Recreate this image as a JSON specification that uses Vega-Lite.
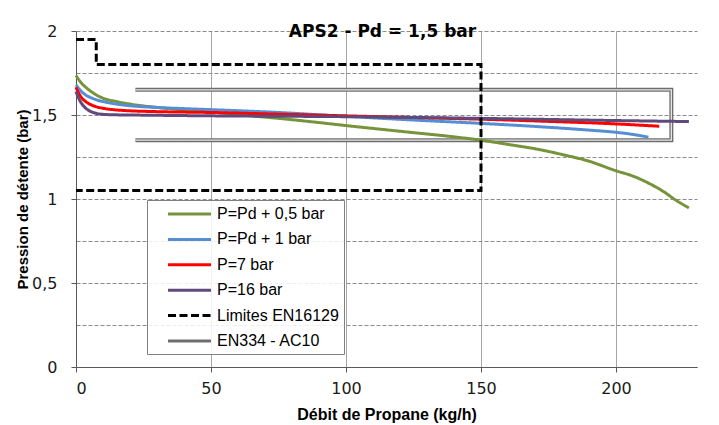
{
  "$schema": "https://vega.github.io/schema/vega-lite/v6.json",
  "width": 621,
  "height": 336,
  "autosize": {"type": "none"},
  "padding": {"left": 76, "top": 31, "right": 22, "bottom": 58},
  "background": "white",
  "title": {
    "text": "APS2 - Pd = 1,5 bar",
    "font": "DejaVu Sans",
    "fontSize": 17,
    "fontWeight": "bold",
    "color": "#000000",
    "anchor": "middle",
    "baseline": "alphabetic",
    "offset": -31,
    "dx": -4
  },
  "config": {
    "view": {"stroke": null},
    "legend": {
      "symbolType": "M-3,0L3,0",
      "symbolStrokeWidth": 3,
      "symbolSize": 205,
      "labelFont": "Liberation Sans",
      "labelFontSize": 16,
      "labelColor": "#000000",
      "fillColor": "rgba(255,255,255,0.85)",
      "strokeColor": "#808080",
      "padding": 5,
      "rowPadding": 8.4,
      "symbolOffset": 28.5,
      "labelOffset": 18.5
    }
  },
  "data": {
    "values": [
      {"s": "P=Pd + 0,5 bar", "i": 0, "x": 0, "y": 1.735},
      {"s": "P=Pd + 0,5 bar", "i": 1, "x": 2, "y": 1.69},
      {"s": "P=Pd + 0,5 bar", "i": 2, "x": 4, "y": 1.66},
      {"s": "P=Pd + 0,5 bar", "i": 3, "x": 6, "y": 1.635},
      {"s": "P=Pd + 0,5 bar", "i": 4, "x": 8, "y": 1.615},
      {"s": "P=Pd + 0,5 bar", "i": 5, "x": 10, "y": 1.6},
      {"s": "P=Pd + 0,5 bar", "i": 6, "x": 15, "y": 1.58},
      {"s": "P=Pd + 0,5 bar", "i": 7, "x": 20, "y": 1.565},
      {"s": "P=Pd + 0,5 bar", "i": 8, "x": 30, "y": 1.545},
      {"s": "P=Pd + 0,5 bar", "i": 9, "x": 40, "y": 1.53},
      {"s": "P=Pd + 0,5 bar", "i": 10, "x": 50, "y": 1.518},
      {"s": "P=Pd + 0,5 bar", "i": 11, "x": 60, "y": 1.502},
      {"s": "P=Pd + 0,5 bar", "i": 12, "x": 75, "y": 1.48},
      {"s": "P=Pd + 0,5 bar", "i": 13, "x": 90, "y": 1.455},
      {"s": "P=Pd + 0,5 bar", "i": 14, "x": 100, "y": 1.437},
      {"s": "P=Pd + 0,5 bar", "i": 15, "x": 110, "y": 1.42},
      {"s": "P=Pd + 0,5 bar", "i": 16, "x": 125, "y": 1.395},
      {"s": "P=Pd + 0,5 bar", "i": 17, "x": 140, "y": 1.37},
      {"s": "P=Pd + 0,5 bar", "i": 18, "x": 150, "y": 1.35},
      {"s": "P=Pd + 0,5 bar", "i": 19, "x": 160, "y": 1.325},
      {"s": "P=Pd + 0,5 bar", "i": 20, "x": 172, "y": 1.293},
      {"s": "P=Pd + 0,5 bar", "i": 21, "x": 180, "y": 1.265},
      {"s": "P=Pd + 0,5 bar", "i": 22, "x": 190, "y": 1.225},
      {"s": "P=Pd + 0,5 bar", "i": 23, "x": 200, "y": 1.168},
      {"s": "P=Pd + 0,5 bar", "i": 24, "x": 206, "y": 1.138},
      {"s": "P=Pd + 0,5 bar", "i": 25, "x": 212, "y": 1.095},
      {"s": "P=Pd + 0,5 bar", "i": 26, "x": 218, "y": 1.04},
      {"s": "P=Pd + 0,5 bar", "i": 27, "x": 222, "y": 0.995},
      {"s": "P=Pd + 0,5 bar", "i": 28, "x": 227, "y": 0.947},
      {"s": "P=Pd + 1 bar", "i": 0, "x": 0, "y": 1.68},
      {"s": "P=Pd + 1 bar", "i": 1, "x": 2, "y": 1.64},
      {"s": "P=Pd + 1 bar", "i": 2, "x": 4, "y": 1.615},
      {"s": "P=Pd + 1 bar", "i": 3, "x": 6, "y": 1.6},
      {"s": "P=Pd + 1 bar", "i": 4, "x": 8, "y": 1.588},
      {"s": "P=Pd + 1 bar", "i": 5, "x": 10, "y": 1.58},
      {"s": "P=Pd + 1 bar", "i": 6, "x": 15, "y": 1.565},
      {"s": "P=Pd + 1 bar", "i": 7, "x": 20, "y": 1.555},
      {"s": "P=Pd + 1 bar", "i": 8, "x": 30, "y": 1.545},
      {"s": "P=Pd + 1 bar", "i": 9, "x": 40, "y": 1.538},
      {"s": "P=Pd + 1 bar", "i": 10, "x": 50, "y": 1.532},
      {"s": "P=Pd + 1 bar", "i": 11, "x": 75, "y": 1.515},
      {"s": "P=Pd + 1 bar", "i": 12, "x": 100, "y": 1.492},
      {"s": "P=Pd + 1 bar", "i": 13, "x": 125, "y": 1.47},
      {"s": "P=Pd + 1 bar", "i": 14, "x": 150, "y": 1.45},
      {"s": "P=Pd + 1 bar", "i": 15, "x": 172, "y": 1.43},
      {"s": "P=Pd + 1 bar", "i": 16, "x": 190, "y": 1.41},
      {"s": "P=Pd + 1 bar", "i": 17, "x": 200, "y": 1.397},
      {"s": "P=Pd + 1 bar", "i": 18, "x": 206, "y": 1.385},
      {"s": "P=Pd + 1 bar", "i": 19, "x": 212, "y": 1.368},
      {"s": "P=7 bar", "i": 0, "x": 0, "y": 1.665},
      {"s": "P=7 bar", "i": 1, "x": 1, "y": 1.63},
      {"s": "P=7 bar", "i": 2, "x": 2, "y": 1.605},
      {"s": "P=7 bar", "i": 3, "x": 4, "y": 1.575},
      {"s": "P=7 bar", "i": 4, "x": 6, "y": 1.558},
      {"s": "P=7 bar", "i": 5, "x": 8, "y": 1.547},
      {"s": "P=7 bar", "i": 6, "x": 10, "y": 1.54},
      {"s": "P=7 bar", "i": 7, "x": 15, "y": 1.53},
      {"s": "P=7 bar", "i": 8, "x": 20, "y": 1.525},
      {"s": "P=7 bar", "i": 9, "x": 30, "y": 1.52},
      {"s": "P=7 bar", "i": 10, "x": 50, "y": 1.515},
      {"s": "P=7 bar", "i": 11, "x": 75, "y": 1.505},
      {"s": "P=7 bar", "i": 12, "x": 100, "y": 1.495},
      {"s": "P=7 bar", "i": 13, "x": 125, "y": 1.485},
      {"s": "P=7 bar", "i": 14, "x": 150, "y": 1.475},
      {"s": "P=7 bar", "i": 15, "x": 175, "y": 1.462},
      {"s": "P=7 bar", "i": 16, "x": 200, "y": 1.447},
      {"s": "P=7 bar", "i": 17, "x": 216, "y": 1.433},
      {"s": "P=16 bar", "i": 0, "x": 0, "y": 1.64},
      {"s": "P=16 bar", "i": 1, "x": 1, "y": 1.6},
      {"s": "P=16 bar", "i": 2, "x": 2, "y": 1.57},
      {"s": "P=16 bar", "i": 3, "x": 3, "y": 1.55},
      {"s": "P=16 bar", "i": 4, "x": 4, "y": 1.535},
      {"s": "P=16 bar", "i": 5, "x": 6, "y": 1.517},
      {"s": "P=16 bar", "i": 6, "x": 8, "y": 1.508},
      {"s": "P=16 bar", "i": 7, "x": 10, "y": 1.504},
      {"s": "P=16 bar", "i": 8, "x": 15, "y": 1.501},
      {"s": "P=16 bar", "i": 9, "x": 20, "y": 1.5},
      {"s": "P=16 bar", "i": 10, "x": 50, "y": 1.495},
      {"s": "P=16 bar", "i": 11, "x": 100, "y": 1.49},
      {"s": "P=16 bar", "i": 12, "x": 150, "y": 1.48},
      {"s": "P=16 bar", "i": 13, "x": 200, "y": 1.467},
      {"s": "P=16 bar", "i": 14, "x": 227, "y": 1.461},
      {"s": "Limites EN16129", "i": 0, "x": 0, "y": 1.95},
      {"s": "Limites EN16129", "i": 1, "x": 7.5, "y": 1.95},
      {"s": "Limites EN16129", "i": 2, "x": 7.5, "y": 1.8},
      {"s": "Limites EN16129", "i": 3, "x": 150, "y": 1.8},
      {"s": "Limites EN16129", "i": 4, "x": 150, "y": 1.05},
      {"s": "Limites EN16129", "i": 5, "x": 0, "y": 1.05},
      {"s": "EN334 - AC10", "i": 0, "x": 22, "y": 1.65},
      {"s": "EN334 - AC10", "i": 1, "x": 220.5, "y": 1.65},
      {"s": "EN334 - AC10", "i": 2, "x": 220.5, "y": 1.35},
      {"s": "EN334 - AC10", "i": 3, "x": 22, "y": 1.35}
    ]
  },
  "encoding": {
    "x": {
      "field": "x",
      "type": "quantitative",
      "scale": {"domain": [0, 230], "nice": false, "zero": false},
      "axis": {
        "title": "Débit de Propane (kg/h)",
        "values": [0, 50, 100, 150, 200],
        "labelExpr": "format(datum.value, 'd')",
        "grid": true,
        "gridColor": "#a6a6a6",
        "gridWidth": 1,
        "domainColor": "#595959",
        "tickColor": "#595959",
        "tickSize": 5,
        "labelFont": "DejaVu Sans",
        "labelFontSize": 16,
        "labelColor": "#1a1a1a",
        "labelPadding": 8,
        "titleFont": "Liberation Sans",
        "titleFontSize": 16,
        "titleFontWeight": "bold",
        "titleColor": "#000000",
        "titleBaseline": "alphabetic",
        "titleY": 52
      }
    },
    "y": {
      "field": "y",
      "type": "quantitative",
      "scale": {"domain": [0, 2], "nice": false},
      "axis": {
        "title": "Pression de détente (bar)",
        "values": [0, 0.25, 0.5, 0.75, 1, 1.25, 1.5, 1.75, 2],
        "labelExpr": "datum.value % 0.5 == 0 ? replace(format(datum.value, '~g'), '.', ',') : ''",
        "labelOverlap": false,
        "grid": true,
        "gridColor": "#8c8c8c",
        "gridDash": [4, 2],
        "gridWidth": 1,
        "domainColor": "#595959",
        "tickColor": "#595959",
        "tickSize": 5,
        "tickOpacity": {"condition": {"test": "datum.value % 0.5 != 0", "value": 0}, "value": 1},
        "labelFont": "DejaVu Sans",
        "labelFontSize": 16,
        "labelColor": "#1a1a1a",
        "labelPadding": 14,
        "titleFont": "Liberation Sans",
        "titleFontSize": 15,
        "titleFontWeight": "bold",
        "titleColor": "#000000",
        "titleAngle": 270,
        "titleAlign": "center",
        "titleBaseline": "middle",
        "titleX": -54,
        "titleY": 168
      }
    },
    "order": {"field": "i", "type": "quantitative"}
  },
  "layer": [
    {
      "transform": [{"filter": "datum.s == 'EN334 - AC10'"}],
      "mark": {"type": "line", "strokeWidth": 4, "strokeJoin": "miter", "strokeCap": "butt"},
      "encoding": {
        "color": {
          "field": "s", "type": "nominal",
          "scale": {
            "domain": ["P=Pd + 0,5 bar", "P=Pd + 1 bar", "P=7 bar", "P=16 bar", "Limites EN16129", "EN334 - AC10"],
            "range": ["#77933C", "#558ED5", "#FF0000", "#604A7B", "#000000", "#6e6e6e"]
          },
          "legend": {"orient": "none", "legendX": 71, "legendY": 169, "title": null}
        },
        "strokeDash": {
          "field": "s", "type": "nominal",
          "scale": {
            "domain": ["P=Pd + 0,5 bar", "P=Pd + 1 bar", "P=7 bar", "P=16 bar", "Limites EN16129", "EN334 - AC10"],
            "range": [[1, 0], [1, 0], [1, 0], [1, 0], [8, 3.5], [1, 0]]
          },
          "legend": {"orient": "none", "legendX": 71, "legendY": 169, "title": null}
        }
      }
    },
    {
      "transform": [{"filter": "datum.s == 'EN334 - AC10'"}],
      "mark": {"type": "line", "strokeWidth": 1.3, "color": "#e6e6e6", "strokeJoin": "miter"},
      "encoding": {}
    },
    {
      "transform": [{"filter": "datum.s != 'EN334 - AC10' && datum.s != 'Limites EN16129'"}],
      "mark": {"type": "line", "strokeWidth": 3, "interpolate": "monotone"},
      "encoding": {
        "color": {"field": "s", "type": "nominal"},
        "strokeDash": {"field": "s", "type": "nominal"}
      }
    },
    {
      "transform": [{"filter": "datum.s == 'Limites EN16129'"}],
      "mark": {"type": "line", "strokeWidth": 3, "strokeCap": "butt", "strokeJoin": "miter"},
      "encoding": {
        "color": {"field": "s", "type": "nominal"},
        "strokeDash": {"field": "s", "type": "nominal"}
      }
    }
  ]
}
